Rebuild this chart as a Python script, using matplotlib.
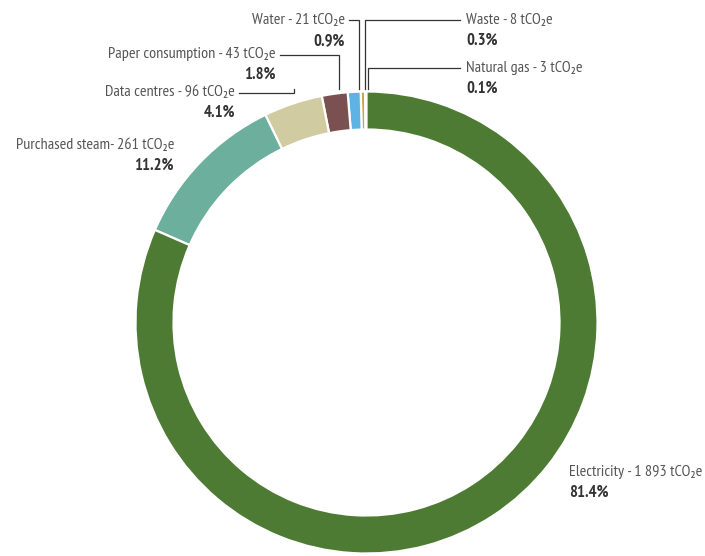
import matplotlib.pyplot as plt
import numpy as np

# emissions by source, tCO2e (counter-clockwise from 12 o'clock)
sources = ["Natural gas", "Waste", "Water", "Paper consumption",
           "Data centres", "Purchased steam", "Electricity"]
tonnes = [3, 8, 21, 43, 96, 261, 1893]
shares = [0.1, 0.3, 0.9, 1.8, 4.1, 11.2, 81.4]
tonne_labels = ["3", "8", "21", "43", "96", "261", "1 893"]
colors = ["#8a8a8a", "#c9a44a", "#5db3e3", "#7a5050",
          "#d0cba0", "#6baf9c", "#4e7b33"]

plt.rcParams['font.family'] = ['PT Sans Narrow', 'DejaVu Sans']

W, H = 705, 556
fig = plt.figure(figsize=(W / 100, H / 100), dpi=100)
ax = fig.add_axes([0, 0, 1, 1])

cx, cy, R = 366.5, H - 322.5, 231
wedges, _ = ax.pie(shares, colors=colors, startangle=90, counterclock=True,
                   center=(cx, cy), radius=R, frame=True,
                   wedgeprops=dict(width=38, edgecolor='white', linewidth=1.6))
ax.set_xlim(0, W)
ax.set_ylim(0, H)
ax.set_aspect('equal')
ax.axis('off')

# label layout: (text x, text y from top, align, leader elbow x, leader y from top)
layout = {
    "Natural gas": (466, 68, 'left', 368, 68),
    "Waste": (466, 20, 'left', 365, 20),
    "Water": (345, 20, 'right', 359, 20),
    "Paper consumption": (276, 54, 'right', 339, 55),
    "Data centres": (235, 92, 'right', 294, 93),
    "Purchased steam": (174, 145, 'right', None, None),
    "Electricity": (569, 472, 'left', None, None),
}

for name, t, s in zip(sources, tonne_labels, shares):
    tx, ty, ha, lx, ly = layout[name]
    sep = "- " if name == "Purchased steam" else " - "
    ax.text(tx, H - ty, f"{name}{sep}{t} tCO\u2082e", ha=ha, va='center',
            fontsize=11.6, color='#555555')
    ax.text(tx, H - ty - 21, f"{s:.1f}%", ha=ha, va='center',
            fontsize=12, fontweight='bold', color='#333333')
    if lx is not None:
        x0 = tx + 4 if ha == 'right' else tx - 6
        ax.plot([x0, lx, lx], [H - ly, H - ly, H - 89], color='#333333',
                lw=0.9, solid_joinstyle='miter')

fig.savefig("out.png", dpi=100)
